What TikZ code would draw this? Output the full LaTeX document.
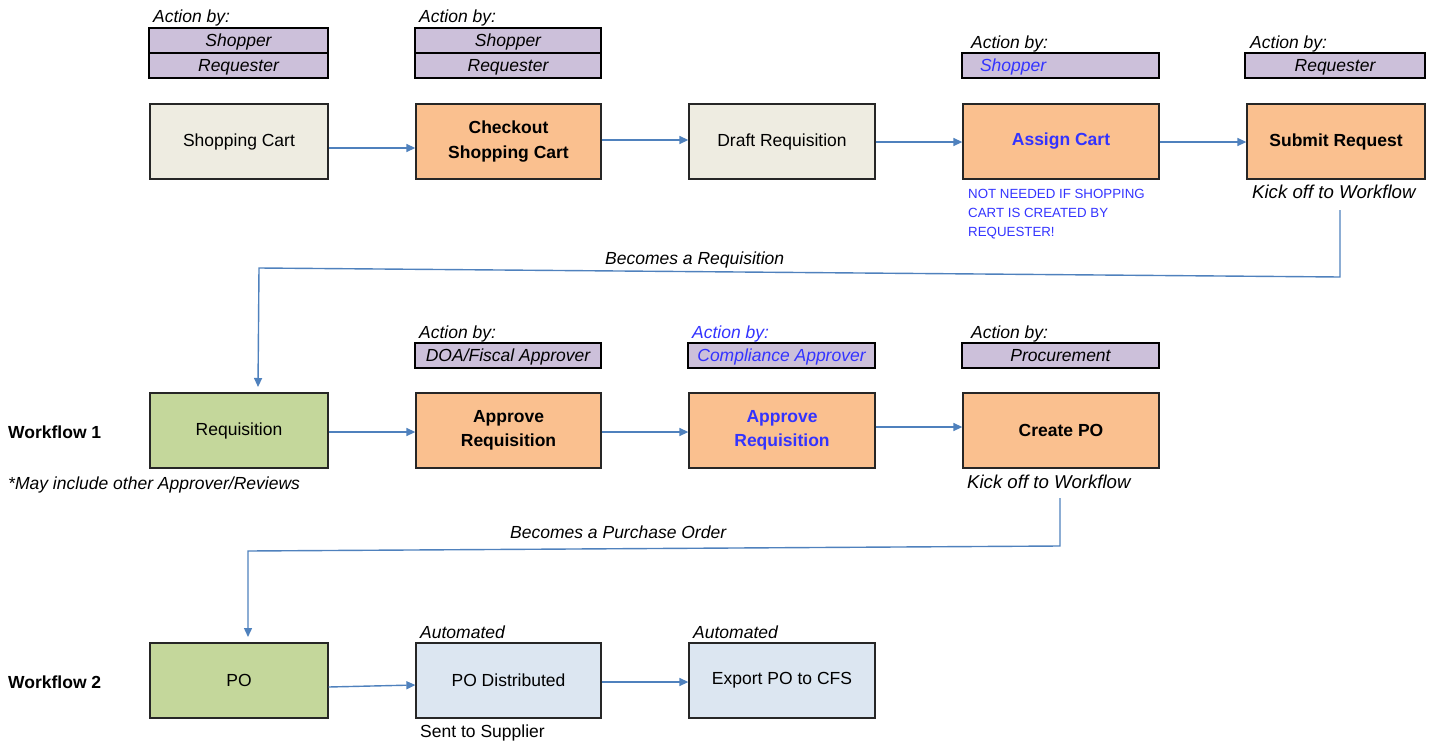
\documentclass[tikz,border=0pt]{standalone}
\usepackage{fontspec}
\setmainfont{Liberation Sans}
\usetikzlibrary{arrows.meta,calc}
\definecolor{orng}{HTML}{FAC08F}
\definecolor{beige}{HTML}{EEECE1}
\definecolor{grn}{HTML}{C4D79B}
\definecolor{lblue}{HTML}{DCE6F1}
\definecolor{purp}{HTML}{CCC0DA}
\definecolor{arrc}{HTML}{4F81BD}
\definecolor{bluetxt}{HTML}{3333FF}
\newcommand{\mainfs}{\fontsize{17.5}{24.5}\selectfont}
\newcommand{\kickfs}{\fontsize{18.6}{22}\selectfont}
\newcommand{\smallfs}{\fontsize{13.3}{19}\selectfont}
\begin{document}
\begin{tikzpicture}[x=1pt,y=-1pt,
  pbox/.style={draw=black!85, line width=1.3pt, minimum height=75pt, inner sep=2pt, align=center, font=\mainfs},
  bbox/.style={pbox, font=\mainfs\bfseries},
  twoline/.style={text depth=6.5pt},
  rolebox/.style={draw=black, line width=2.2pt, minimum height=25pt, inner sep=0pt, fill=purp, font=\mainfs\itshape, text height=16pt, text depth=3.4pt},
  lbl/.style={anchor=base west, inner sep=0pt, font=\mainfs\itshape},
  wlbl/.style={anchor=base west, inner sep=0pt, font=\mainfs\bfseries},
  arr/.style={draw=arrc, line width=1.4pt, -{Triangle[length=9pt,width=8pt]}}
]
\useasboundingbox (0,0) rectangle (1438,744);

% Row 1 process boxes
\node[pbox, fill=beige, minimum width=178pt] (sc) at (239,141.5) {Shopping Cart};
\node[bbox, fill=orng, minimum width=185pt] (co) at (508.5,141.5) {Checkout\\Shopping Cart};
\node[pbox, fill=beige, minimum width=186pt] (dr) at (782,141.5) {Draft Requisition};
\node[bbox, fill=orng, minimum width=196pt, text=bluetxt] (ac) at (1061,141.5) {Assign Cart};
\node[bbox, fill=orng, minimum width=178pt] (sr) at (1336,141.5) {Submit Request};

% Row 2
\node[pbox, fill=grn, minimum width=178pt] (rq) at (239,430.5) {Requisition};
\node[bbox, fill=orng, minimum width=185pt] (ap1) at (508.5,430.5) {Approve\\Requisition};
\node[bbox, fill=orng, minimum width=186pt, text=bluetxt] (ap2) at (782,430.5) {Approve\\Requisition};
\node[bbox, fill=orng, minimum width=196pt] (cp) at (1061,430.5) {Create PO};

% Row 3
\node[pbox, fill=grn, minimum width=178pt] (po) at (239,680.5) {PO};
\node[pbox, fill=lblue, minimum width=185pt] (pd) at (508.5,680.5) {PO Distributed};
\node[pbox, fill=lblue, minimum width=186pt] (ex) at (782,680.5) {Export PO to CFS};

% Role boxes
\node[rolebox, minimum width=179pt] (r1a) at (238.5,40.5) {Shopper};
\node[rolebox, minimum width=179pt] (r1b) at (238.5,65.5) {Requester};
\node[rolebox, minimum width=186pt] (r2a) at (508,40.5) {Shopper};
\node[rolebox, minimum width=186pt] (r2b) at (508,65.5) {Requester};
\node[rolebox, minimum width=197pt, text=bluetxt, text width=161pt, align=left] (r4) at (1060.5,65.5) {Shopper};
\node[rolebox, minimum width=180pt] (r5) at (1335,65.5) {Requester};
\node[rolebox, minimum width=186pt] (r6) at (508,355.5) {DOA/Fiscal Approver};
\node[rolebox, minimum width=187pt, text=bluetxt] (r7) at (781.5,355.5) {Compliance Approver};
\node[rolebox, minimum width=197pt] (r8) at (1060.5,355.5) {Procurement};

% Action by labels
\node[lbl] (ab1) at (153,23) {Action by:};
\node[lbl] (ab2) at (419,23) {Action by:};
\node[lbl] (ab4) at (971,48) {Action by:};
\node[lbl] (ab5) at (1250,48) {Action by:};
\node[lbl] (ab6) at (419,338) {Action by:};
\node[lbl, text=bluetxt] (ab7) at (692,338) {Action by:};
\node[lbl] (ab8) at (971,338) {Action by:};
\node[lbl] (au1) at (420,638) {Automated};
\node[lbl] (au2) at (693,638) {Automated};

% Other texts
\node[lbl, font=\kickfs\itshape] (ko1) at (1252,198) {Kick off to Workflow};
\node[lbl, font=\kickfs\itshape] (ko2) at (967,488) {Kick off to Workflow};
\node[anchor=north west, inner sep=0pt, font=\smallfs, text=bluetxt, align=left] (nn) at (968,189.5) {NOT NEEDED IF SHOPPING\\CART IS CREATED BY\\REQUESTER!};
\node[lbl] (bR) at (605,264) {Becomes a Requisition};
\node[lbl] (bP) at (510,538) {Becomes a Purchase Order};
\node[wlbl] (w1) at (8,438) {Workflow 1};
\node[wlbl] (w2) at (8,688) {Workflow 2};
\node[lbl] (may) at (8,489) {*May include other Approver/Reviews};
\node[anchor=base west, inner sep=0pt, font=\mainfs] (sent) at (420,737) {Sent to Supplier};

% Row arrows
\draw[arr] ([yshift=-6.5pt]sc.east) -- ([yshift=-6.5pt]co.west);
\draw[arr] ([yshift=1.5pt]co.east) -- ([yshift=1.5pt]dr.west);
\draw[arr] ([yshift=-0.5pt]dr.east) -- ([yshift=-0.5pt]ac.west);
\draw[arr] ([yshift=-0.5pt]ac.east) -- ([yshift=-0.5pt]sr.west);
\draw[arr] ([yshift=-1.5pt]rq.east) -- ([yshift=-1.5pt]ap1.west);
\draw[arr] ([yshift=-1.5pt]ap1.east) -- ([yshift=-1.5pt]ap2.west);
\draw[arr] ([yshift=3.5pt]ap2.east) -- ([yshift=3.5pt]cp.west);
\draw[arr] ([yshift=-6.5pt]po.east) -- ([yshift=-4.5pt]pd.west);
\draw[arr] ([yshift=-1.5pt]pd.east) -- ([yshift=-1.5pt]ex.west);

% Workflow connectors
\coordinate (k1) at (1340,210);
\coordinate (k1e) at (258,387);
\draw[arr] (k1) -- (1340,277) -- (259,268) -- (k1e);
\coordinate (k2) at (1060,498);
\coordinate (k2e) at (248,637);
\draw[arr] (k2) -- (1060,546) -- (248,551) -- (k2e);
\end{tikzpicture}
\end{document}
